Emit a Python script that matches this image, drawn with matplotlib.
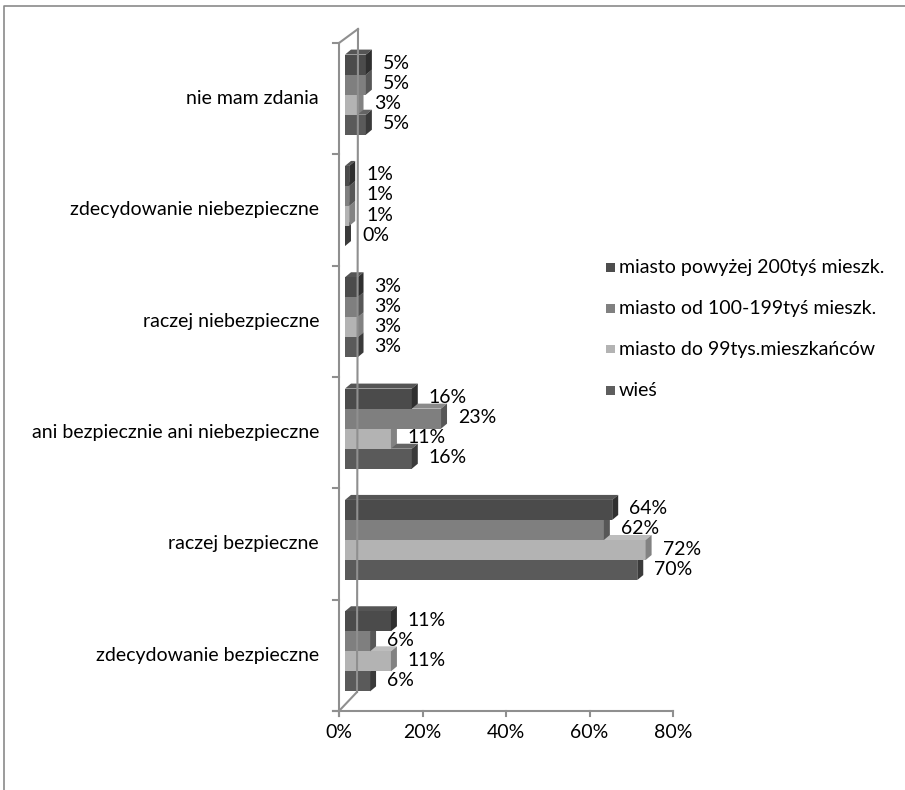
import matplotlib
matplotlib.use("Agg")
import matplotlib.pyplot as plt
from matplotlib.patches import Polygon, Rectangle
from matplotlib.lines import Line2D

# Survey answers (bottom to top on the chart)
categories = [
    "zdecydowanie bezpieczne",
    "raczej bezpieczne",
    "ani bezpiecznie ani niebezpieczne",
    "raczej niebezpieczne",
    "zdecydowanie niebezpieczne",
    "nie mam zdania",
]
series_names = [
    "miasto powyżej 200tyś mieszk.",
    "miasto od 100-199tyś mieszk.",
    "miasto do 99tys.mieszkańców",
    "wieś",
]
city_200 = [11, 64, 16, 3, 1, 5]
city_100 = [6, 62, 23, 3, 1, 5]
city_99 = [11, 72, 11, 3, 1, 3]
village = [6, 70, 16, 3, 0, 5]
x_ticks = [0, 20, 40, 60, 80]
x_tick_labels = ["0%", "20%", "40%", "60%", "80%"]

series_values = [city_200, city_100, city_99, village]
# front / side / top shades for each series
front_cols = ["#4b4b4b", "#7f7f7f", "#b3b3b3", "#5a5a5a"]
side_cols = ["#2f2f2f", "#575757", "#828282", "#3a3a3a"]
top_cols = ["#555555", "#8a8a8a", "#bdbdbd", "#646464"]
legend_cols = ["#4d4d4d", "#808080", "#b3b3b3", "#5e5e5e"]

FONT = "Lato"
FS = 14

W, H, DPI = 905, 790, 100
fig = plt.figure(figsize=(W / DPI, H / DPI), dpi=DPI)
fig.patch.set_facecolor("white")


def fx(px):
    return px / W


def fy(py):
    return 1 - py / H


# plot area: x 0..80 % across pixels 339..673, categories across 43..711
AX_L, AX_R, AX_T, AX_B = 339, 673, 43, 711
ax = fig.add_axes([fx(AX_L), fy(AX_B), fx(AX_R) - fx(AX_L), fy(AX_T) - fy(AX_B)])
ax.set_xlim(0, 80)
ax.set_ylim(0, 6)
ax.axis("off")

sx = 80 / (AX_R - AX_L)   # data units per pixel (x)
sy = 6 / (AX_B - AX_T)    # data units per pixel (y)

grey = "#8f8f8f"
lw = 1.5

# floor of the 3D plot (left wall)
ax.add_line(Line2D([0, 0], [0 - 5 * sy, 6], color=grey, lw=lw, clip_on=False))
ax.add_line(Line2D([18 * sx, 19 * sx], [19 * sy, 6 + 14 * sy], color=grey, lw=lw, clip_on=False))
ax.add_line(Line2D([0, 18 * sx], [0, 19 * sy], color=grey, lw=lw, clip_on=False))
ax.add_line(Line2D([0, 19 * sx], [6, 6 + 14 * sy], color=grey, lw=lw, clip_on=False))
for k in range(7):
    ax.add_line(Line2D([-6 * sx, 0], [k, k], color=grey, lw=lw, clip_on=False))

# value axis
ax.add_line(Line2D([-6 * sx, 80], [0, 0], color=grey, lw=lw, clip_on=False))
for t, lab in zip(x_ticks, x_tick_labels):
    ax.add_line(Line2D([t, t], [0, -5 * sy], color=grey, lw=lw, clip_on=False))
    ax.text(t, -22 * sy, lab, ha="center", va="center", fontsize=FS,
            family=FONT, color="black", clip_on=False)

# category labels
for i, c in enumerate(categories):
    ax.text(-20 * sx, i + 0.5, c, ha="right", va="center", fontsize=FS,
            family=FONT, color="black", clip_on=False)

# 3D bars
FX_OFF, FY_OFF = 6 * sx, 4 * sy     # front face shift
DX, DY = 6 * sx, 5 * sy             # depth of each bar
h = 0.18
for i in range(len(categories)):
    centre = i + 0.5
    for j in reversed(range(len(series_values))):
        v = series_values[j][i]
        y0 = centre + 2 * h - (j + 1) * h + FY_OFF
        y1 = y0 + h
        x0 = FX_OFF
        x1 = v + FX_OFF
        front = Rectangle((x0, y0), x1 - x0, h, facecolor=front_cols[j],
                          edgecolor="none", clip_on=False)
        top = Polygon([(x0, y1), (x1, y1), (x1 + DX, y1 + DY), (x0 + DX, y1 + DY)],
                      closed=True, facecolor=top_cols[j], edgecolor="none", clip_on=False)
        side = Polygon([(x1, y0), (x1 + DX, y0 + DY), (x1 + DX, y1 + DY), (x1, y1)],
                       closed=True, facecolor=side_cols[j], edgecolor="none", clip_on=False)
        ax.add_patch(top)
        ax.add_patch(front)
        ax.add_patch(side)
        ax.text(v + 23 * sx, (y0 + y1) / 2 + 1 * sy, f"{v}%", ha="left", va="center",
                fontsize=FS, family=FONT, color="black", clip_on=False, zorder=5)

# legend
legend_y = [267, 308, 349, 390]
for name, col, ly in zip(series_names, legend_cols, legend_y):
    fig.patches.append(Rectangle((fx(606), fy(ly + 4.5)), 9 / W, 9 / H,
                                 transform=fig.transFigure, facecolor=col,
                                 edgecolor="none"))
    fig.text(fx(619), fy(ly), name, ha="left", va="center", fontsize=FS,
             family=FONT, color="black")

# chart frame
fig.add_artist(Line2D([fx(3.5), fx(3.5), 1], [0, fy(5.5), fy(5.5)],
                      transform=fig.transFigure, color="#8a8a8a", lw=1.2))

fig.savefig("out.png", dpi=DPI)
